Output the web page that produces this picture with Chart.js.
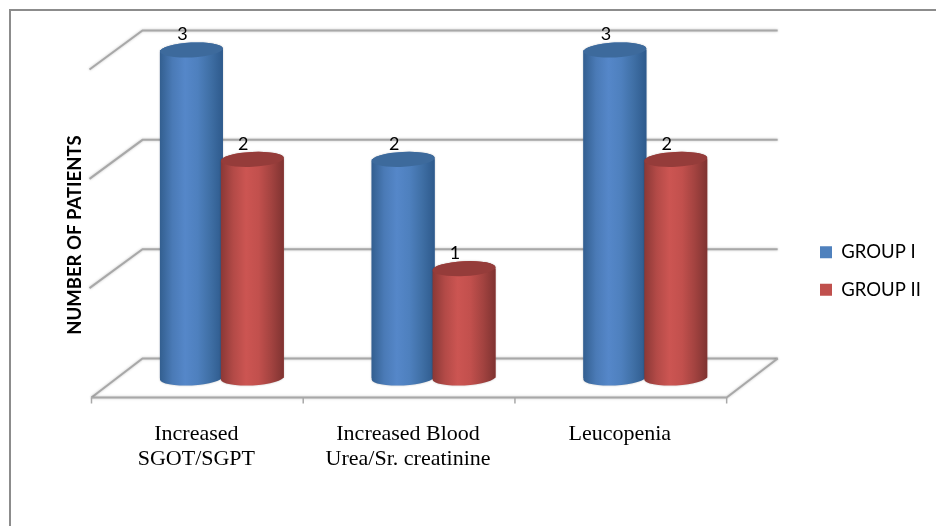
<!DOCTYPE html>
<html><head><meta charset="utf-8">
<style>html,body{margin:0;padding:0;background:#fff}#w{width:936px;height:526px;position:relative}canvas{display:block}</style>
<script src="https://cdn.jsdelivr.net/npm/chart.js@4"></script></head>
<body><div id="w"><canvas id="c" width="936" height="526"></canvas></div>
<script>
const categories = [["Increased","SGOT/SGPT"],["Increased Blood","Urea/Sr. creatinine"],["Leucopenia"]];
const groupI = [3,2,3];
const groupII = [2,1,2];
const seriesNames = ["GROUP I","GROUP II"];
const legendColors = ["#4F81BD","#C0504D"];
const gradientStops = [
  ["#335F90","#4A7AB6","#5587C9","#4E80BE","#3F6FA5","#2E5A8C"],
  ["#8A3836","#B34A47","#CC5552","#C2504D","#A34340","#7F3331"]
];
const capColors = ["#3D6A9C","#953C3A"];
const DEPTH = {frontX:24.5, backX:26.5, dy:19.5, ry:7.4, tilt:-0.05};

const cylinders = {
  id:'cylinders',
  beforeDatasetsDraw(chart){
    const {ctx,scales:{x,y}} = chart;
    const yBack = v => y.getPixelForValue(v)-DEPTH.dy;
    const yFront = v => y.getPixelForValue(v)+DEPTH.dy;
    const fl = x.left-DEPTH.frontX, fr = x.right-DEPTH.frontX;
    const bl = x.left+DEPTH.backX, br = x.right+DEPTH.backX;
    ctx.save();
    ctx.strokeStyle='#A8A8A8'; ctx.lineWidth=2; ctx.lineCap='butt';
    ctx.shadowColor='rgba(0,0,0,0.25)'; ctx.shadowBlur=2.5;
    y.ticks.forEach(t=>{
      ctx.beginPath();
      ctx.moveTo(fl-(t.value?2:0),yFront(t.value)); ctx.lineTo(bl,yBack(t.value)); ctx.lineTo(br,yBack(t.value));
      ctx.stroke();
    });
    ctx.beginPath();
    ctx.moveTo(fl,yFront(0)); ctx.lineTo(fr,yFront(0)); ctx.lineTo(br,yBack(0));
    ctx.stroke();
    ctx.shadowBlur=0;
    ctx.lineWidth=1.5;
    for(let i=0;i<=categories.length;i++){
      const px = fl+(fr-fl)*i/categories.length;
      ctx.beginPath(); ctx.moveTo(px,yFront(0)); ctx.lineTo(px,yFront(0)+6); ctx.stroke();
    }
    ctx.restore();
  },
  afterDatasetsDraw(chart){
    const {ctx,scales:{y}} = chart;
    const base = y.getPixelForValue(0);
    [0,1].forEach(d=>{
      chart.getDatasetMeta(d).data.forEach(el=>{
        const p = el.getProps(['x','y','width'],true);
        const l=p.x-p.width/2, r=p.x+p.width/2, rx=p.width/2;
        const g = ctx.createLinearGradient(l,0,r,0);
        const s = gradientStops[d];
        s.forEach((c,i)=>g.addColorStop(i/(s.length-1),c));
        ctx.save();
        ctx.shadowColor='rgba(0,0,0,0.25)'; ctx.shadowBlur=2;
        ctx.fillStyle=g;
        ctx.beginPath();
        ctx.ellipse(p.x,base,rx,DEPTH.ry,DEPTH.tilt,Math.PI,0,true);
        ctx.ellipse(p.x,p.y,rx,DEPTH.ry,DEPTH.tilt,0,Math.PI,true);
        ctx.closePath();
        ctx.fill();
        ctx.shadowBlur=0;
        ctx.fillStyle=capColors[d];
        ctx.beginPath();
        ctx.ellipse(p.x,p.y,rx,DEPTH.ry,DEPTH.tilt,0,Math.PI*2);
        ctx.fill();
        ctx.restore();
      });
    });
    ctx.save();
    ctx.font='18px Lato'; ctx.fillStyle='#000'; ctx.textAlign='center'; ctx.textBaseline='middle';
    [0,1].forEach(d=>{
      const vals = chart.data.datasets[d].data;
      chart.getDatasetMeta(d).data.forEach((el,i)=>{
        const p = el.getProps(['x','y'],true);
        ctx.fillText(String(vals[i]),p.x-9,p.y-15.5);
      });
    });
    ctx.restore();
  },
  afterLayout(chart){
    const lg = chart.legend, d = 801-lg.left;
    lg.left += d; lg.right += d;
    (lg.legendHitBoxes||[]).forEach(h=>{h.left+=d;});
    chart.scales.y.bottom += 42;
  },
  afterDraw(chart){
    const {ctx} = chart;
    ctx.save();
    ctx.strokeStyle='#8C8C8C'; ctx.lineWidth=2;
    ctx.beginPath();
    ctx.moveTo(936,10); ctx.lineTo(10,10); ctx.lineTo(10,526);
    ctx.stroke();
    ctx.restore();
  }
};

new Chart(document.getElementById('c'),{
  type:'bar',
  data:{labels:categories,datasets:[
    {label:seriesNames[0],data:groupI,backgroundColor:legendColors[0]},
    {label:seriesNames[1],data:groupII,backgroundColor:legendColors[1]}
  ]},
  options:{
    responsive:false,animation:false,
    devicePixelRatio:1,
    layout:{padding:{left:64,right:55,top:50,bottom:34}},
    datasets:{bar:{categoryPercentage:0.575,barPercentage:1.035,borderWidth:0}},
    scales:{
      x:{
        afterFit(s){s.height=492-378;},
        grid:{display:false,drawTicks:false},border:{display:false},
        ticks:{color:'#000',font:{family:'Liberation Serif',size:22,lineHeight:1.14},padding:44,labelOffset:-25.5,maxRotation:0,minRotation:0,autoSkip:false}
      },
      y:{
        min:0,max:3,
        afterFit(s){s.width=52;},
        grid:{display:false},border:{display:false},
        ticks:{display:false,stepSize:1},
        title:{display:true,text:'NUMBER OF PATIENTS',color:'#000',font:{family:'Lato',size:18.5,weight:'bold'},padding:0}
      }
    },
    plugins:{
      tooltip:{enabled:false},
      legend:{position:'right',align:'center',
        labels:{boxWidth:12,boxHeight:12,padding:19,color:'#000',font:{family:'Lato',size:18.5}}}
    }
  },
  plugins:[cylinders]
});
</script></body></html>
